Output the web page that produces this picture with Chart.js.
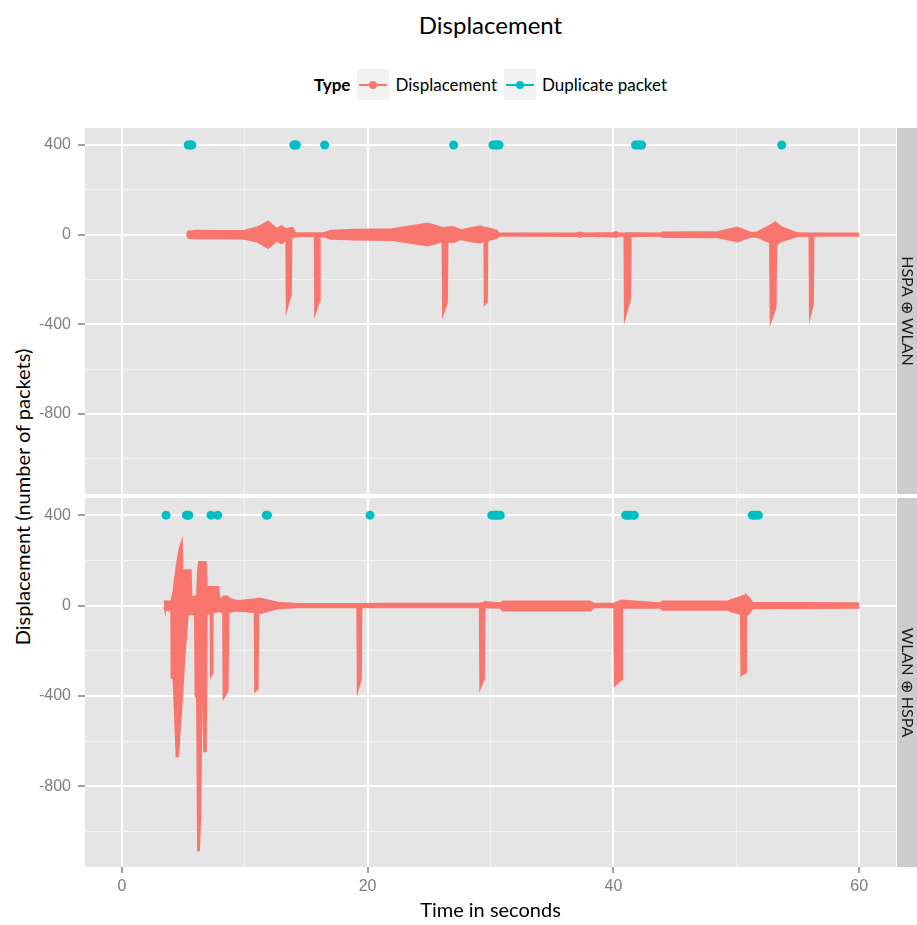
<!DOCTYPE html>
<html>
<head>
<meta charset="utf-8">
<title>Displacement</title>
<script src="https://cdn.jsdelivr.net/npm/chart.js@4.4.1/dist/chart.umd.min.js"></script>
<style>
  body { margin: 0; background: #fff; }
  #wrap { position: relative; width: 917px; height: 925px; font-family: Lato, "Open Sans", sans-serif; color: #000; overflow: hidden; }
  #title { position: absolute; left: 85px; width: 811px; top: 10px; text-align: center; font-size: 24px; }
  #legend { position: absolute; left: 85px; width: 811px; top: 69px; height: 31px; display: flex; justify-content: center; align-items: center; font-size: 17px; }
  #legend b { margin-right: 7px; }
  .key { position: relative; width: 32px; height: 31px; background: #f2f2f2; margin-right: 6px; }
  .key .ln { position: absolute; left: 2px; right: 2px; top: 15px; height: 2px; }
  .key .dot { position: absolute; left: 12px; top: 12px; width: 8px; height: 8px; border-radius: 50%; }
  .lbl { margin-right: 7px; }
  #ytitle { position: absolute; left: 22px; top: 497px; transform: translate(-50%, -50%) rotate(-90deg); white-space: nowrap; font-size: 20px; }
  #xtitle { position: absolute; left: 85px; width: 811px; top: 897px; text-align: center; font-size: 20px; }
  canvas { position: absolute; left: 0; }
  #topPanel { top: 128px; }
  #bottomPanel { top: 498px; }
</style>
</head>
<body>
<div id="wrap">
  <div id="title">Displacement</div>
  <div id="legend">
    <b>Type</b>
    <span class="key"><i class="ln" style="background:#F8766D"></i><i class="dot" style="background:#F8766D"></i></span><span class="lbl">Displacement</span>
    <span class="key"><i class="ln" style="background:#00BFC4"></i><i class="dot" style="background:#00BFC4"></i></span><span>Duplicate packet</span>
  </div>
  <div id="ytitle">Displacement (number of packets)</div>
  <canvas id="topPanel" width="917" height="366"></canvas>
  <canvas id="bottomPanel" width="917" height="427"></canvas>
  <div id="xtitle">Time in seconds</div>
</div>
<script>
// facet labels
const stripLabels = ['HSPA ⊕ WLAN', 'WLAN ⊕ HSPA'];

// axes
const xGrid = [0, 10, 20, 30, 40, 50, 60];
const xLabels = [0, 20, 40, 60];
const yGrid = [-1000, -800, -600, -400, -200, 0, 200, 400];
const yLabels = [-800, -400, 0, 400];

// HSPA ⊕ WLAN : displacement envelope (upper / lower)
const topTime = [5.3, 5.4, 6.0, 8.0, 10.0, 11.0, 11.9, 12.6, 13.0, 13.38, 13.42, 13.75, 13.8, 13.9, 14.1, 15.0, 15.7, 15.73, 16.05, 16.1,
  16.5, 17.0, 19.0, 22.0, 24.9, 26.1, 26.14, 26.45, 26.5, 27.0, 27.6, 28.5, 29.2, 29.5, 29.53, 29.7, 29.74, 30.5, 30.7, 32.0,
  37.0, 37.3, 37.6, 40.0, 40.2, 40.5, 40.9, 40.94, 41.35, 41.4, 41.5, 43.8, 44.0, 48.5, 50.1, 51.2, 51.7, 52.75, 52.8, 53.2,
  53.25, 53.6, 54.3, 55.0, 55.96, 56.0, 56.24, 56.28, 60.0];
const topUpper = [0, 14, 18, 16, 18, 32, 58, 26, 38, 24, 24, 30, 30, 30, 8, 6, 6, 6, 6, 6,
  8, 18, 22, 24, 50, 30, 30, 32, 32, 33, 20, 30, 37, 30, 30, 30, 30, 18, 5, 5,
  6, 10, 5, 8, 12, 5, 5, 5, 8, 8, 6, 5, 10, 12, 32, 8, 10, 40, 42, 55,
  52, 35, 20, 6, 5, 5, 5, 5, 5];
const topLower = [0, -14, -16, -16, -18, -30, -60, -26, -38, -22, -331, -265, -15, -10, -8, -6, -6, -349, -295, -6,
  -8, -18, -22, -24, -48, -30, -352, -303, -30, -33, -20, -30, -35, -25, -310, -300, -25, -15, -5, -5,
  -6, -10, -5, -8, -10, -5, -5, -370, -288, -5, -6, -5, -10, -12, -30, -8, -10, -35, -388, -325,
  -45, -30, -18, -6, -5, -362, -310, -5, -5];
// HSPA ⊕ WLAN : duplicate packets
const topDupTime = [5.4, 5.55, 5.7, 14.0, 14.1, 14.2, 16.5, 27.0, 30.2, 30.4, 30.55, 30.7, 41.8, 42.0, 42.15, 42.3, 53.7];
const topDupValue = [400, 400, 400, 400, 400, 400, 400, 400, 400, 400, 400, 400, 400, 400, 400, 400, 400];

// WLAN ⊕ HSPA : displacement envelope
const bottomTime = [3.44, 3.5, 3.95, 4.02, 4.05, 4.2, 4.3, 4.45, 4.58, 4.7, 4.88, 4.93, 5.1, 5.35, 5.6, 5.66, 5.95, 6.0, 6.12, 6.2,
  6.28, 6.38, 6.5, 6.62, 6.7, 6.83, 6.9, 7.22, 7.25, 7.35, 7.38, 7.86, 7.92, 8.24, 8.28, 8.6, 8.67, 9.0, 9.5, 10.81,
  10.85, 11.05, 11.1, 11.3, 12.7, 14.4, 19.16, 19.2, 19.45, 19.49, 21.0, 29.13, 29.17, 29.46, 29.5, 30.8, 31.0, 38.1, 38.4, 40.07,
  40.11, 40.65, 40.7, 43.8, 44.0, 49.3, 49.6, 50.38, 50.42, 50.75, 50.79, 51.1, 51.3, 60.0];
const bottomUpper = [5, 18, 18, 20, 22, 60, 110, 170, 215, 250, 282, 156, 156, 156, 156, 39, 39, 39, 50, 150,
  193, 193, 193, 193, 193, 193, 82, 82, 82, 82, 82, 82, 30, 35, 40, 40, 35, 25, 20, 28,
  28, 30, 30, 30, 12, 7, 7, 7, 7, 7, 8, 8, 10, 10, 15, 10, 18, 18, 8, 8,
  10, 22, 22, 10, 18, 18, 25, 38, 40, 45, 47, 30, 12, 10];
const bottomLower = [-5, -18, -22, -22, -319, -319, -450, -667, -667, -560, -420, -380, -220, -45, -37, -37, -40, -400, -410, -1083,
  -1083, -920, -356, -356, -645, -645, -40, -30, -311, -300, -30, -25, -25, -30, -408, -380, -30, -25, -22, -30,
  -378, -367, -33, -33, -12, -7, -7, -374, -326, -7, -8, -8, -363, -326, -8, -10, -22, -22, -8, -8,
  -353, -326, -10, -10, -18, -18, -25, -38, -308, -296, -47, -30, -12, -10];
// WLAN ⊕ HSPA : duplicate packets
const bottomDupTime = [3.6, 5.25, 5.35, 5.45, 7.25, 7.8, 11.75, 11.85, 20.2, 30.1, 30.3, 30.45, 30.6, 30.8, 41.0, 41.15, 41.3, 41.5, 41.7, 51.3, 51.45, 51.6, 51.8];
const bottomDupValue = [400, 400, 400, 400, 400, 400, 400, 400, 400, 400, 400, 400, 400, 400, 400, 400, 400, 400, 400, 400, 400, 400, 400];

const lineColor = '#F8766D';
const dupColor = '#00BFC4';

function toPoints(xs, ys) {
    return xs.map((x, i) => ({ x: x, y: ys[i] }));
}

// gray panel + facet strip on the right
const panelBackground = {
    id: 'panelBackground',
    beforeDraw(chart, args, opts) {
        const ctx = chart.ctx;
        const a = chart.chartArea;
        ctx.save();
        ctx.fillStyle = '#e5e5e5';
        ctx.fillRect(a.left, a.top, a.right - a.left, a.bottom - a.top);
        ctx.fillStyle = '#cccccc';
        ctx.fillRect(a.right + 1, a.top, chart.width - a.right - 1, a.bottom - a.top);
        ctx.translate((a.right + 1 + chart.width) / 2, (a.top + a.bottom) / 2);
        ctx.rotate(Math.PI / 2);
        ctx.fillStyle = '#1a1a1a';
        ctx.font = '16px Lato, sans-serif';
        ctx.textAlign = 'center';
        ctx.textBaseline = 'middle';
        ctx.fillText(opts.strip, 0, 0);
        ctx.restore();
    }
};

// no label overflow padding: the panel fills its canvas exactly
function noPadding(s) {
    s.paddingTop = 0;
    s.paddingBottom = 0;
    s.paddingLeft = 0;
    s.paddingRight = 0;
}

function makePanel(canvasId, strip, time, upper, lower, dupTime, dupValue, withXAxis) {
    const majorX = v => xLabels.includes(v);
    const majorY = v => yLabels.includes(v);
    return new Chart(document.getElementById(canvasId), {
        type: 'line',
        data: {
            datasets: [
                {
                    label: 'Duplicate packet',
                    data: toPoints(dupTime, dupValue),
                    showLine: false,
                    pointRadius: 4.5,
                    pointBorderWidth: 0,
                    pointBackgroundColor: dupColor,
                    borderColor: dupColor
                },
                {
                    label: 'Displacement',
                    data: toPoints(time, upper),
                    borderColor: lineColor,
                    backgroundColor: lineColor,
                    borderWidth: 2,
                    pointRadius: 0,
                    tension: 0,
                    fill: '+1'
                },
                {
                    label: 'Displacement (low)',
                    data: toPoints(time, lower),
                    borderColor: lineColor,
                    borderWidth: 2,
                    pointRadius: 0,
                    tension: 0,
                    fill: false
                }
            ]
        },
        options: {
            responsive: false,
            animation: false,
            layout: { autoPadding: false, padding: { left: 0, right: 21, top: 0, bottom: 0 } },
            plugins: {
                legend: { display: false },
                tooltip: { enabled: false },
                panelBackground: { strip: strip }
            },
            scales: {
                x: {
                    type: 'linear',
                    min: -3,
                    max: 63,
                    afterBuildTicks: s => { s.ticks = xGrid.map(v => ({ value: v })); },
                    afterFit: s => { s.height = withXAxis ? 58 : 0; noPadding(s); },
                    border: { display: false },
                    grid: {
                        color: c => majorX(c.tick.value) ? '#ffffff' : '#f2f2f2',
                        lineWidth: c => majorX(c.tick.value) ? 2 : 1,
                        drawTicks: withXAxis,
                        tickLength: 6,
                        tickWidth: 1.5,
                        tickColor: c => majorX(c.tick.value) ? '#7f7f7f' : 'rgba(0,0,0,0)'
                    },
                    ticks: {
                        display: withXAxis,
                        autoSkip: false,
                        maxRotation: 0,
                        padding: 4,
                        color: '#7f7f7f',
                        font: { family: 'Liberation Sans', size: 16 },
                        callback: v => xLabels.includes(v) ? String(v) : ''
                    }
                },
                y: {
                    type: 'linear',
                    min: -1157,
                    max: 476,
                    afterBuildTicks: s => { s.ticks = yGrid.map(v => ({ value: v })); },
                    afterFit: s => { s.width = 85; noPadding(s); },
                    border: { display: false },
                    grid: {
                        color: c => majorY(c.tick.value) ? '#ffffff' : '#f2f2f2',
                        lineWidth: c => majorY(c.tick.value) ? 2 : 1,
                        drawTicks: true,
                        tickLength: 7,
                        tickWidth: 1.5,
                        tickColor: c => majorY(c.tick.value) ? '#7f7f7f' : 'rgba(0,0,0,0)'
                    },
                    ticks: {
                        autoSkip: false,
                        padding: 7,
                        color: '#7f7f7f',
                        font: { family: 'Liberation Sans', size: 16 },
                        callback: v => yLabels.includes(v) ? String(v) : ''
                    }
                }
            }
        },
        plugins: [panelBackground]
    });
}

makePanel('topPanel', stripLabels[0], topTime, topUpper, topLower, topDupTime, topDupValue, false);
makePanel('bottomPanel', stripLabels[1], bottomTime, bottomUpper, bottomLower, bottomDupTime, bottomDupValue, true);
</script>
</body>
</html>
